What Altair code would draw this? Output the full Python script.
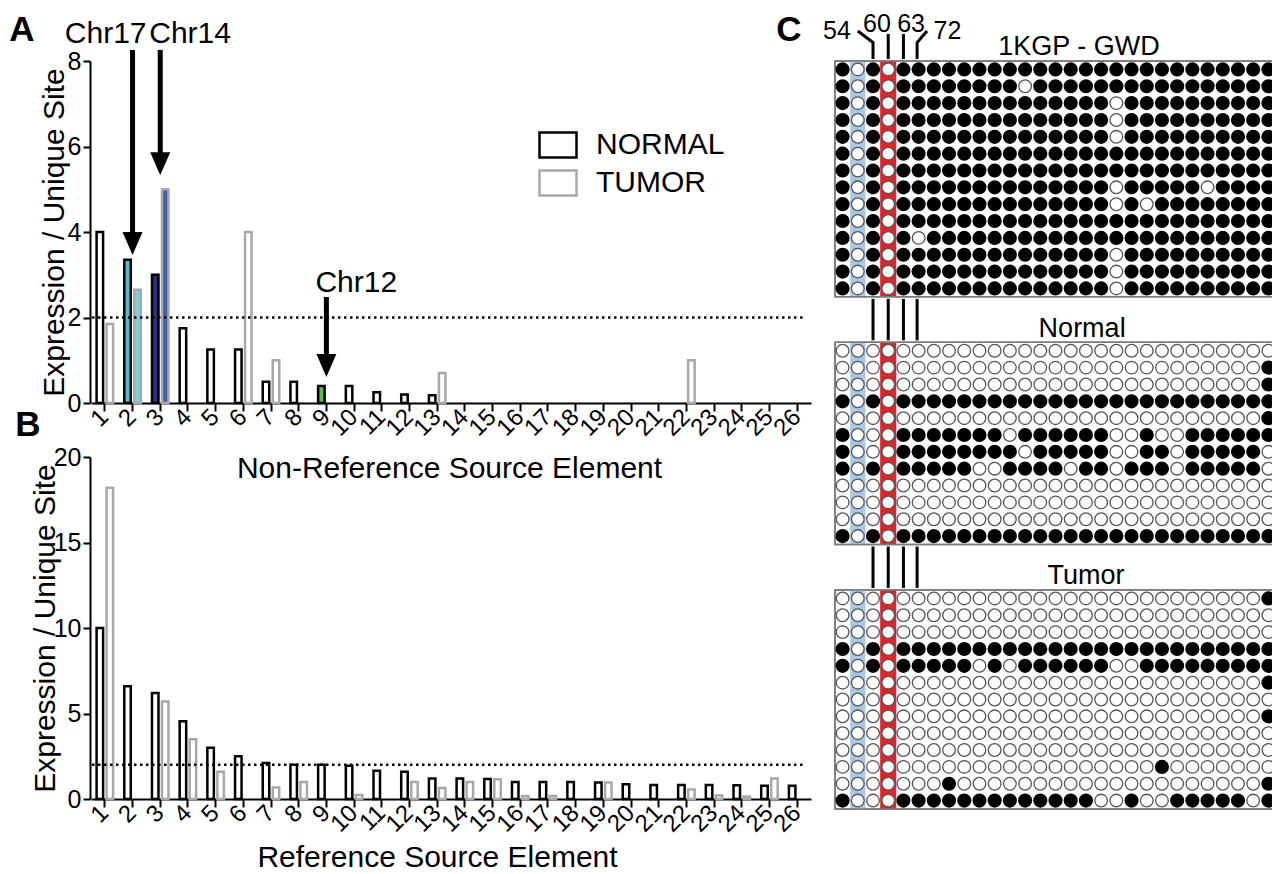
import altair as alt
import pandas as pd

FONT = "Liberation Sans"
W, H = 1264, 866

# ---------------- data ----------------
categories = [str(i) for i in range(1, 27)]
groups = ["NORMAL", "TUMOR"]

a_normal = [4.0, 3.35, 3.0, 1.75, 1.25, 1.25, 0.5, 0.5, 0.4, 0.4, 0.25, 0.2, 0.18,
            0, 0, 0, 0, 0, 0, 0, 0, 0, 0, 0, 0, 0]
a_tumor = [1.85, 2.65, 5.0, 0, 0, 4.0, 1.0, 0, 0, 0, 0, 0, 0.7,
           0, 0, 0, 0, 0, 0, 0, 0, 1.0, 0, 0, 0, 0]
a_highlight = ["", "Chr17", "Chr14", "", "", "", "", "", "Chr12"] + [""] * 17

b_normal = [10.0, 6.6, 6.2, 4.55, 3.0, 2.5, 2.1, 2.0, 2.0, 1.95, 1.65, 1.6, 1.2,
            1.2, 1.17, 1.0, 1.0, 1.0, 0.96, 0.86, 0.82, 0.82, 0.82, 0.8, 0.78, 0.78]
b_tumor = [18.2, 0, 5.7, 3.5, 1.6, 0, 0.67, 1.0, 0, 0.24, 0, 1.0, 0.65,
           1.0, 1.15, 0.18, 0.18, 0, 0.96, 0, 0, 0.55, 0.2, 0.15, 1.2, 0]
threshold = 2.0

arrow_labels = ["Chr17", "Chr14", "Chr12"]
arrow_categories = ["2", "3", "9"]
arrow_start = [8.26, 8.26, 2.48]
arrow_tip = [3.46, 5.33, 0.61]
arrow_label_value = [8.42, 8.42, 2.6]

# panel C: 1 = filled circle, 0 = open circle (29 columns)
gwd_rows = [
    "1010" + "1111111111111111111111111",
    "1010" + "11111111" + "0" + "1111111111111111",
    "1010" + "11111111111111" + "0" + "1111111111",
    "1010" + "11111111111111" + "0" + "1111111111",
    "1010" + "11111111111111" + "0" + "1111111111",
    "1010" + "1111111111111111111111111",
    "1010" + "1111111111111111111111111",
    "1010" + "11111111111111" + "0" + "11111" + "0" + "1111",
    "1010" + "11111111111111" + "0" + "1" + "0" + "11111111",
    "1010" + "1111111111111111111111111",
    "1010" + "1" + "0" + "11111111111111111111111",
    "1010" + "11111111111111" + "0" + "1111111111",
    "1010" + "11111111111111" + "0" + "1111111111",
    "1010" + "11111111111111" + "0" + "1111111111",
]
normal_rows = [
    "0" * 29,
    "0" * 28 + "1",
    "0" * 28 + "1",
    "1010" + "1" * 25,
    "0" * 28 + "1",
    "1000" + "1111111" + "0" + "111111" + "00" + "1" + "00" + "111111",
    "1000" + "11111111" + "0" + "11111" + "00" + "11" + "0" + "11111" + "0",
    "1010" + "11111" + "00" + "1111" + "0" + "11" + "0" + "111" + "0" + "11111" + "0",
    "0" * 29,
    "0" * 29,
    "0" * 29,
    "1010" + "1" * 25,
]
tumor_rows = [
    "0" * 28 + "1",
    "0" * 29,
    "0" * 29,
    "1010" + "1" * 25,
    "1010" + "11111" + "0" + "1" + "0" + "111111" + "00" + "111111111",
    "0" * 28 + "1",
    "0" * 29,
    "0" * 28 + "1",
    "0" * 29,
    "0" * 29,
    "0" * 21 + "1" + "0" * 7,
    "0" * 7 + "1" + "0" * 20 + "1",
    "1000" + "1" * 13 + "00" + "1" + "00" + "11111" + "0" + "1",
]
grid_titles = ["1KGP - GWD", "Normal", "Tumor"]
grid_rows_list = [gwd_rows, normal_rows, tumor_rows]
position_labels = ["54", "60", "63", "72"]
blue_column = 1
red_column = 3

# ---------------- layout constants (pixels inside the view) ----------------
AX_X = 82
BAR_X_RANGE = [83, 803]
A_Y_RANGE = [395, 53]
B_Y_RANGE = [791, 449]
C_X_RANGE = [827, 1268]
C_Y_RANGE = [53, 801]
GRID_GAP = 2.7
Y_TITLE = "Expression / Unique Site"

FILL_KEYS = ["NORMAL|", "TUMOR|", "NORMAL|Chr17", "TUMOR|Chr17",
             "NORMAL|Chr14", "TUMOR|Chr14", "NORMAL|Chr12", "TUMOR|Chr12"]
FILL_COLORS = ["white", "white", "#4cc0d0", "#7fd0dc",
               "#26347e", "#4b5db0", "#5cbf48", "#5cbf48"]
STROKE_COLORS = ["black", "#a8a8a8"]
RECT_SYMBOL = "M-1,-0.68L1,-0.68L1,0.68L-1,0.68Z"
TRI = "M-0.87,-2L0.87,-2L0,0Z"


def bar_frame(normal, tumor, highlight):
    rows = []
    for i, c in enumerate(categories):
        for g, vals in zip(groups, (normal, tumor)):
            rows.append({"cat": c, "group": g, "value": vals[i],
                         "key": g + "|" + highlight[i]})
    return pd.DataFrame(rows)


def bar_panel(df, y_domain, y_range, y_values, x_title, title_x, title_y,
              y_title_x, legend):
    x_enc = alt.X(
        "cat:O", sort=categories, title=x_title,
        scale=alt.Scale(domain=categories, range=BAR_X_RANGE,
                        paddingInner=0.404, paddingOuter=0.202),
        axis=alt.Axis(orient="bottom", offset=y_range[0] - H,
                      labelAngle=-45, labelAlign="right", labelBaseline="middle",
                      labelFontSize=24, labelPadding=2, tickSize=8,
                      titleX=title_x, titleY=title_y, titleBaseline="alphabetic",
                      titleFontSize=30, titleFontWeight="normal"),
    )
    y_enc = alt.Y(
        "value:Q", title=Y_TITLE,
        scale=alt.Scale(domain=y_domain, range=y_range, nice=False, zero=True),
        axis=alt.Axis(orient="left", offset=-AX_X, values=y_values, format="d",
                      titleFontSize=30, titleFontWeight="normal", titleX=y_title_x,
                      titleBaseline="alphabetic",
                      labelFontSize=25, tickSize=7, labelPadding=2),
    )
    bars = alt.Chart(df).transform_filter("datum.value > 0").mark_bar(
        strokeWidth=2.5, strokeJoin="miter"
    ).encode(
        x=x_enc,
        xOffset=alt.XOffset("group:N", sort=groups,
                            scale=alt.Scale(domain=groups, paddingInner=0.35,
                                            paddingOuter=0)),
        y=y_enc,
        fill=alt.Fill("key:N", scale=alt.Scale(domain=FILL_KEYS, range=FILL_COLORS),
                      legend=None),
        stroke=alt.Stroke("group:N", scale=alt.Scale(domain=groups, range=STROKE_COLORS),
                          legend=legend),
    )
    rule = alt.Chart(pd.DataFrame({"value": [threshold]})).mark_rule(
        strokeDash=[2.5, 3.5], strokeWidth=2.5, color="black"
    ).encode(
        y=alt.Y("value:Q", title=Y_TITLE),
        x=alt.value(BAR_X_RANGE[0] + 1), x2=alt.value(BAR_X_RANGE[1] - 8),
    )
    return [bars, rule]


legend_a = alt.Legend(orient="none", legendX=530, legendY=117, title=None,
                      symbolType=RECT_SYMBOL, symbolSize=1369, symbolStrokeWidth=2.5,
                      symbolFillColor="white", labelFontSize=30, labelFont=FONT,
                      labelColor="black", labelOffset=18, padding=0, rowPadding=0,
                      labelLimit=400)

A_X_TITLE = "Non-Reference Source Element"
B_X_TITLE = "Reference Source Element"
a_df = bar_frame(a_normal, a_tumor, a_highlight)
b_df = bar_frame(b_normal, b_tumor, [""] * 26)

a_layers = bar_panel(a_df, [0, 8], A_Y_RANGE, [0, 2, 4, 6, 8],
                     A_X_TITLE, 441, 74, -27, legend_a)
b_layers = bar_panel(b_df, [0, 20], B_Y_RANGE, [0, 5, 10, 15, 20],
                     B_X_TITLE, 429, 67, -36, None)

# arrows in panel A
arrows = pd.DataFrame({"cat": arrow_categories, "label": arrow_labels,
                       "start": arrow_start, "tip": arrow_tip,
                       "text_y": arrow_label_value})
shaft = alt.Chart(arrows).transform_calculate(base="datum.tip + 0.45").mark_rule(
    strokeWidth=5, color="black"
).encode(
    x=alt.X("cat:O", title=A_X_TITLE), y=alt.Y("start:Q", title=Y_TITLE), y2="base:Q"
)
head = alt.Chart(arrows).mark_point(
    shape=TRI, size=529, filled=True, fill="black", strokeWidth=0, opacity=1
).encode(x=alt.X("cat:O", title=A_X_TITLE), y=alt.Y("tip:Q", title=Y_TITLE))
label_align = {"Chr17": ("right", 14), "Chr14": ("left", -11), "Chr12": ("left", -11)}
arrow_texts = []
for lab in arrow_labels:
    al, dx = label_align[lab]
    arrow_texts.append(
        alt.Chart(arrows).transform_filter(alt.datum.label == lab).mark_text(
            font=FONT, fontSize=30, align=al, baseline="alphabetic", dx=dx, color="black"
        ).encode(x=alt.X("cat:O", title=A_X_TITLE),
                 y=alt.Y("text_y:Q", title=Y_TITLE),
                 text="label:N")
    )

panel_a = alt.layer(*a_layers, shaft, head, *arrow_texts)
panel_b = alt.layer(*b_layers)

# ---------------- panel C ----------------
offsets = []
acc = 0.0
for g in grid_rows_list:
    offsets.append(acc)
    acc += len(g) + GRID_GAP
c_total = offsets[-1] + len(grid_rows_list[-1])

cells = []
boxes = []
bands = []
for gi, (title, grid) in enumerate(zip(grid_titles, grid_rows_list)):
    off = offsets[gi]
    boxes.append({"x": 0, "x2": 29, "y": off, "y2": off + len(grid)})
    bands.append({"band": "blue", "x": blue_column, "x2": blue_column + 1,
                  "y": off, "y2": off + len(grid)})
    bands.append({"band": "red", "x": red_column - 0.03, "x2": red_column + 1.03,
                  "y": off, "y2": off + len(grid)})
    for r, s in enumerate(grid):
        for c, ch in enumerate(s):
            cells.append({"col": c + 0.5, "row": off + r + 0.5, "filled": int(ch)})
cells = pd.DataFrame(cells)
boxes = pd.DataFrame(boxes)
bands = pd.DataFrame(bands)

line_cols = [2.5, 3.5, 4.5, 5.4]
seg = []
for gi in range(len(grid_rows_list) - 1):
    bottom = offsets[gi] + len(grid_rows_list[gi])
    top = offsets[gi + 1]
    for k, xc in enumerate(line_cols):
        seg.append({"id": f"g{gi}-{k}", "o": 0, "col": xc, "row": bottom + 0.12})
        seg.append({"id": f"g{gi}-{k}", "o": 1, "col": xc, "row": top - 0.12})
top_paths = {
    "54": [(1.5, -1.78), (2.5, -1.1), (2.5, -0.12)],
    "60": [(3.5, -1.6), (3.5, -0.12)],
    "63": [(4.5, -1.6), (4.5, -0.12)],
    "72": [(6.05, -1.78), (5.4, -1.1), (5.4, -0.12)],
}
for lab, pts in top_paths.items():
    for o, (xc, yr) in enumerate(pts):
        seg.append({"id": "t" + lab, "o": o, "col": xc, "row": yr})
seg = pd.DataFrame(seg)

pos_df = pd.DataFrame({"label": position_labels, "col": [0.13, 2.76, 5.0, 7.4],
                       "row": [-1.3, -1.75, -1.75, -1.3]})
title_df = pd.DataFrame({"label": grid_titles, "col": [16.05, 16.25, 16.5],
                         "row": [o - 0.33 for o in offsets]})

cx = alt.Scale(domain=[0, 29], range=C_X_RANGE, nice=False, zero=False)
cy = alt.Scale(domain=[0, c_total], range=C_Y_RANGE, nice=False, zero=False)

box_fill = alt.Chart(boxes).mark_rect(fill="white", stroke="#7a7a7a", strokeWidth=1.5).encode(
    x=alt.X("x:Q", scale=cx, axis=None), x2="x2:Q",
    y=alt.Y("y:Q", scale=cy, axis=None), y2="y2:Q")
blue = alt.Chart(bands).transform_filter(alt.datum.band == "blue").mark_rect(
    fill="#a9c8e8").encode(x=alt.X("x:Q", axis=None), x2="x2:Q",
                           y=alt.Y("y:Q", axis=None), y2="y2:Q")
red = alt.Chart(bands).transform_filter(alt.datum.band == "red").mark_rect(
    fill="#e2232a").encode(x=alt.X("x:Q", axis=None), x2="x2:Q",
                           y=alt.Y("y:Q", axis=None), y2="y2:Q")
box_line = alt.Chart(boxes).mark_rect(fill="transparent", stroke="#7a7a7a",
                                      strokeWidth=1.5).encode(
    x=alt.X("x:Q", axis=None), x2="x2:Q", y=alt.Y("y:Q", axis=None), y2="y2:Q")
filled = alt.Chart(cells).transform_filter(alt.datum.filled == 1).mark_circle(
    size=200, color="black", opacity=1).encode(
    x=alt.X("col:Q", axis=None), y=alt.Y("row:Q", axis=None))
openc = alt.Chart(cells).transform_filter(alt.datum.filled == 0).mark_circle(
    size=160, fill="white", stroke="#555555", strokeWidth=1.3, opacity=1).encode(
    x=alt.X("col:Q", axis=None), y=alt.Y("row:Q", axis=None))
lines = alt.Chart(seg).mark_line(strokeWidth=3, color="black", strokeCap="butt",
                                 strokeJoin="miter").encode(
    x=alt.X("col:Q", axis=None), y=alt.Y("row:Q", axis=None),
    detail="id:N", order="o:Q")
pos_text = alt.Chart(pos_df).mark_text(font=FONT, fontSize=25, baseline="alphabetic",
                                       align="center", color="black").encode(
    x=alt.X("col:Q", axis=None), y=alt.Y("row:Q", axis=None), text="label:N")
title_text = alt.Chart(title_df).mark_text(font=FONT, fontSize=27, baseline="alphabetic",
                                           align="center", color="black").encode(
    x=alt.X("col:Q", axis=None), y=alt.Y("row:Q", axis=None), text="label:N")

panel_c = alt.layer(box_fill, blue, red, box_line, openc, filled, lines, pos_text, title_text)

# panel letters
letters = pd.DataFrame({"letter": ["A", "B", "C"]})
letter_layers = []
for lt, (px, py) in zip(["A", "B", "C"], [(14, 33), (20, 428), (781, 33)]):
    letter_layers.append(
        alt.Chart(letters).transform_filter(alt.datum.letter == lt).mark_text(
            font=FONT, fontSize=35, fontWeight="bold", align="center",
            baseline="alphabetic", color="black"
        ).encode(x=alt.value(px), y=alt.value(py), text="letter:N")
    )

chart = alt.layer(panel_a, panel_b, panel_c, *letter_layers).resolve_scale(
    x="independent", y="independent", fill="independent", stroke="independent"
).resolve_axis(x="independent", y="independent").resolve_legend(
    stroke="independent"
).properties(
    width=W, height=H, autosize=alt.AutoSizeParams(type="none"), padding=0
).configure_view(strokeWidth=0).configure_axis(
    domainColor="black", domainWidth=2, tickColor="black", tickWidth=2,
    labelColor="black", titleColor="black", labelFont=FONT, titleFont=FONT, grid=False
)

chart.save("out.html", embed_options={"renderer": "svg", "actions": False})
